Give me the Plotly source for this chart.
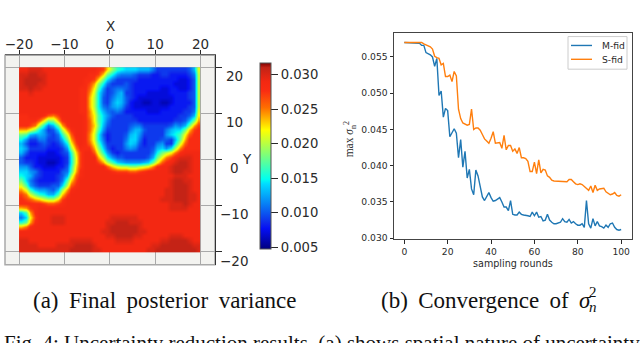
"""Uncertainty reduction figure: posterior variance map and convergence curves."""

import plotly.graph_objects as go

W, H = 640, 343
SANS = "DejaVu Sans"
SERIF = "Liberation Serif"
INK = "#2a2a2a"
BLUE = "#1f77b4"
ORANGE = "#ff7f0e"
THIN = "\u2009"

# ---------------------------------------------------------------------------
# Data
# ---------------------------------------------------------------------------

MAP_X = [c - 19.5 for c in range(40)]
MAP_Y = [19.5 - r for r in range(40)]
MAP_TICKS = [-20, -10, 0, 10, 20]
CBAR_TICKS = [0.005, 0.010, 0.015, 0.020, 0.025, 0.030]

# posterior variance x 1000, top row first
VARIANCE = [
    [29,29,30,30,30,29,29,29,29,29,29,29,29,29,29,29,29,28,27,23,19,16,15,14,14,14,13,13,13,11,9,9,9,9,9,9,9,10,13,21],
    [30,30,31,31,30,30,29,29,29,29,29,29,29,29,29,28,28,27,23,18,15,12,11,11,11,10,9,9,9,8,8,9,9,8,8,8,8,9,11,20],
    [30,31,31,31,31,30,29,29,29,29,29,29,29,29,28,28,27,23,18,14,11,9,9,9,9,9,8,8,8,8,8,8,8,8,8,7,7,8,10,20],
    [30,31,31,31,30,30,29,29,29,29,29,29,29,29,28,27,24,19,15,11,9,9,9,10,9,8,8,8,8,8,8,8,8,8,7,7,7,8,10,20],
    [30,30,31,30,30,29,29,29,29,29,29,29,29,28,28,26,22,17,12,9,10,11,11,10,9,8,8,8,8,8,8,7,7,8,8,7,7,8,10,20],
    [29,29,30,29,29,29,29,29,29,29,29,29,29,28,28,25,21,15,11,9,10,12,13,9,9,8,8,8,7,7,7,7,7,8,8,8,8,9,10,20],
    [29,29,29,29,29,29,29,29,29,29,29,29,29,28,28,24,20,15,10,9,11,13,13,10,9,8,7,7,7,7,7,7,7,7,8,8,8,9,10,20],
    [29,29,29,29,29,29,29,29,29,29,29,29,29,28,28,24,20,15,10,9,12,14,13,10,8,7,7,6,6,7,7,6,6,7,8,8,8,8,10,20],
    [29,29,29,29,29,29,29,29,29,29,29,29,29,28,28,24,20,15,11,10,12,13,12,9,8,7,7,7,7,7,7,7,7,8,8,8,8,9,10,20],
    [29,29,29,29,29,29,29,29,29,29,29,29,29,28,28,25,21,16,13,11,10,11,10,8,8,8,8,8,7,7,7,8,8,8,8,8,9,9,11,21],
    [28,28,29,29,29,28,26,25,27,29,29,29,29,29,28,25,22,17,14,12,10,9,9,9,9,8,8,8,8,8,8,8,8,8,8,9,9,10,13,22],
    [28,28,28,28,26,22,18,19,24,28,29,29,29,29,28,26,22,17,14,11,9,9,9,9,9,9,8,8,8,8,8,8,8,8,9,9,10,13,18,24],
    [28,28,27,25,20,15,11,13,18,24,28,29,29,29,28,26,23,18,13,10,9,9,9,9,10,11,11,9,9,9,9,9,9,10,12,11,13,18,24,27],
    [24,24,22,19,15,12,9,10,14,20,25,28,29,29,28,26,22,17,12,9,9,9,9,9,11,13,13,10,9,9,9,9,11,13,14,14,18,23,27,28],
    [18,17,13,12,13,12,10,9,11,16,21,26,29,29,28,25,21,15,10,8,9,9,9,10,13,14,12,9,9,9,9,9,12,14,15,17,22,26,28,28],
    [15,12,9,9,11,11,9,9,10,13,18,24,28,29,28,25,21,15,11,8,9,9,9,11,14,14,11,8,9,9,9,10,10,9,13,18,24,28,28,28],
    [13,10,8,8,9,10,9,8,9,11,15,22,27,29,28,26,22,17,12,9,9,9,9,12,14,13,10,8,9,9,11,12,9,9,15,21,26,28,28,28],
    [14,12,9,9,9,9,8,8,8,9,12,19,25,28,28,28,24,19,14,10,8,9,9,11,12,11,9,9,9,10,13,14,12,15,20,25,28,28,28,28],
    [13,10,8,8,8,8,7,7,8,9,10,16,23,27,29,29,26,21,16,12,9,8,9,9,9,9,9,9,9,11,15,18,20,22,25,28,29,29,29,29],
    [10,8,8,8,7,7,7,7,7,8,9,15,22,27,29,29,29,24,20,15,12,10,10,9,9,9,9,9,10,13,18,22,25,27,29,30,30,30,29,29],
    [10,9,9,8,7,7,6,6,7,8,9,15,22,27,29,29,29,27,24,20,17,14,13,12,12,12,12,13,14,18,22,26,28,29,30,31,31,30,29,29],
    [12,12,10,8,8,7,7,7,8,8,10,16,23,27,29,29,29,29,29,26,23,21,20,20,19,19,20,21,22,25,28,29,29,30,31,31,31,30,29,29],
    [14,14,12,11,9,8,8,8,8,10,11,17,24,28,29,29,29,29,29,29,28,27,27,27,26,26,27,28,29,29,29,29,29,30,31,31,30,30,29,29],
    [15,14,13,10,9,8,8,8,9,10,13,20,26,28,29,29,29,29,29,29,29,29,29,29,29,29,29,29,29,29,29,29,29,29,30,30,30,29,29,29],
    [18,14,11,9,8,8,8,8,9,11,17,23,27,29,29,29,29,29,29,29,29,29,29,29,29,29,29,29,29,29,29,29,29,30,31,31,30,30,29,29],
    [21,17,12,10,9,9,9,10,10,14,20,26,28,29,29,29,29,29,29,29,29,29,29,29,29,29,29,29,29,29,29,29,29,30,31,31,31,30,29,29],
    [24,21,16,13,12,12,11,10,13,19,24,28,29,29,29,29,29,29,29,29,29,29,29,29,29,29,29,29,29,29,29,29,30,30,31,31,31,30,29,29],
    [27,25,21,18,16,15,13,13,17,23,27,29,29,29,29,29,29,29,29,29,29,29,29,29,29,29,29,29,29,29,29,29,30,30,31,31,31,30,30,29],
    [28,27,26,24,23,21,20,20,23,27,29,29,29,29,29,29,29,29,29,29,29,29,29,29,29,29,29,29,29,29,29,30,30,30,31,31,31,30,30,29],
    [28,28,28,28,28,27,26,26,27,28,29,29,29,29,29,29,29,29,29,29,29,29,29,29,29,29,29,29,29,29,29,29,29,30,30,30,31,30,29,29],
    [23,24,27,28,29,29,29,29,29,29,29,29,29,29,29,29,29,29,29,29,29,29,29,29,29,29,29,29,29,29,29,29,29,30,30,30,30,29,29,29],
    [14,17,24,28,29,29,29,29,29,29,29,29,29,29,29,29,29,29,29,29,29,29,29,29,29,29,29,29,29,29,29,29,29,29,29,29,29,29,29,29],
    [11,14,22,27,29,29,29,30,30,30,29,29,29,29,29,29,29,29,29,29,30,30,30,30,30,30,29,29,29,29,29,29,29,29,29,29,29,29,29,29],
    [16,18,24,28,29,29,29,30,30,30,29,29,29,29,29,29,29,29,29,30,30,31,31,31,30,30,30,29,29,29,29,29,29,29,29,29,29,29,29,29],
    [23,25,28,29,29,29,29,29,29,29,29,29,29,29,29,29,29,29,29,30,31,31,31,31,31,31,30,29,29,29,29,29,29,29,29,29,29,29,29,29],
    [29,29,29,29,29,29,29,29,29,29,29,29,29,29,29,29,29,29,30,30,31,31,31,31,31,31,30,30,29,29,29,29,29,29,29,29,29,29,29,29],
    [29,29,29,29,29,29,29,29,29,29,29,29,29,29,29,29,29,29,29,30,30,31,31,31,31,30,30,29,29,29,29,29,29,30,30,30,29,29,29,29],
    [30,30,29,29,29,29,29,29,29,29,29,30,30,30,30,30,29,29,29,29,29,30,30,30,30,29,29,29,29,29,29,30,30,31,31,31,31,30,29,29],
    [30,30,30,30,29,29,29,29,30,30,30,30,31,31,31,31,30,29,29,29,29,29,29,29,29,29,29,29,29,30,30,31,31,31,31,31,31,31,30,30],
    [30,30,30,30,30,30,30,30,30,30,30,31,31,31,31,31,30,30,29,29,29,29,29,29,29,29,29,29,30,30,31,31,31,31,31,31,31,31,31,30],
]

ROUNDS = list(range(101))

M_FID = [
    0.0570, 0.0570, 0.0570, 0.0570, 0.0570, 0.0570, 0.0570, 0.0569, 0.0566, 0.0566,
    0.0556, 0.0555, 0.0553, 0.0550, 0.0537, 0.0548, 0.0497, 0.0503, 0.0467, 0.0479,
    0.0476, 0.0440, 0.0445, 0.0451, 0.0445, 0.0411, 0.0436, 0.0398, 0.0420, 0.0383,
    0.0395, 0.0368, 0.0360, 0.0394, 0.0386, 0.0373, 0.0357, 0.0352, 0.0357, 0.0363,
    0.0356, 0.0351, 0.0352, 0.0354, 0.0356, 0.0350, 0.0343, 0.0343, 0.0338, 0.0352,
    0.0333, 0.0332, 0.0332, 0.0336, 0.0333, 0.0332, 0.0332, 0.0331, 0.0330, 0.0336,
    0.0331, 0.0336, 0.0329, 0.0330, 0.0324, 0.0325, 0.0333, 0.0325, 0.0322, 0.0320,
    0.0320, 0.0321, 0.0322, 0.0327, 0.0323, 0.0322, 0.0326, 0.0321, 0.0323, 0.0320,
    0.0318, 0.0318, 0.0320, 0.0315, 0.0352, 0.0320, 0.0314, 0.0327, 0.0317, 0.0323,
    0.0317, 0.0316, 0.0314, 0.0318, 0.0315, 0.0320, 0.0321, 0.0315, 0.0312, 0.0311,
    0.0312,
]

S_FID = [
    0.0570, 0.0570, 0.0570, 0.0570, 0.0570, 0.0570, 0.0570, 0.0570, 0.0570, 0.0568,
    0.0567, 0.0565, 0.0564, 0.0561, 0.0551, 0.0549, 0.0548, 0.0539, 0.0541, 0.0523,
    0.0523, 0.0525, 0.0516, 0.0530, 0.0524, 0.0478, 0.0465, 0.0459, 0.0457, 0.0456,
    0.0457, 0.0478, 0.0450, 0.0452, 0.0452, 0.0449, 0.0443, 0.0437, 0.0434, 0.0431,
    0.0438, 0.0447, 0.0431, 0.0431, 0.0432, 0.0424, 0.0442, 0.0422, 0.0428, 0.0428,
    0.0420, 0.0423, 0.0417, 0.0425, 0.0411, 0.0411, 0.0410, 0.0406, 0.0392, 0.0392,
    0.0405, 0.0389, 0.0408, 0.0390, 0.0395, 0.0394, 0.0386, 0.0384, 0.0380, 0.0379,
    0.0379, 0.0379, 0.0378, 0.0378, 0.0379, 0.0378, 0.0381, 0.0381, 0.0378, 0.0375,
    0.0374, 0.0375, 0.0374, 0.0371, 0.0368, 0.0366, 0.0372, 0.0363, 0.0373, 0.0366,
    0.0368, 0.0369, 0.0369, 0.0364, 0.0362, 0.0360, 0.0361, 0.0363, 0.0359, 0.0358,
    0.0360,
]

ROUND_TICKS = [0, 20, 40, 60, 80, 100]
SIGMA_TICKS = [0.030, 0.035, 0.040, 0.045, 0.050, 0.055]

# jet, with the reds pulled towards the washed-out tone of the original screenshot
JET = [
    [0.0, "rgb(0,0,127)"],
    [0.11, "rgb(5,15,245)"],
    [0.14, "rgb(15,40,235)"],
    [0.35, "rgb(0,220,255)"],
    [0.375, "rgb(0,255,240)"],
    [0.64, "rgb(255,255,0)"],
    [0.76, "rgb(255,110,0)"],
    [0.85, "rgb(250,45,18)"],
    [0.90, "rgb(243,40,18)"],
    [0.975, "rgb(195,35,22)"],
    [1.0, "rgb(127,0,0)"],
]


def px_x(x):
    return x / W


def px_y(y):
    return 1 - y / H


def label(x, y, text, size, family=SANS, color=INK, xanchor="center", **kw):
    fig.add_annotation(
        x=px_x(x), y=px_y(y), xref="paper", yref="paper", text=text, showarrow=False,
        xanchor=xanchor, yanchor="middle",
        font={"family": family, "size": size, "color": color}, **kw,
    )


fig = go.Figure()

# ---------------------------------------------------------------------------
# (a) Posterior variance map
# ---------------------------------------------------------------------------

fig.add_trace(
    go.Heatmap(
        x=MAP_X,
        y=MAP_Y,
        z=[[v / 1000 for v in row] for row in VARIANCE],
        zmin=0.0047,
        zmax=0.0317,
        zsmooth="best",
        colorscale=JET,
        xaxis="x",
        yaxis="y",
        colorbar={
            "x": px_x(260), "xanchor": "left", "y": px_y(158), "yanchor": "middle",
            "len": 188 / H, "lenmode": "fraction", "thickness": 11, "xpad": 0, "ypad": 0,
            "outlinecolor": "#555", "outlinewidth": 1,
            "tickvals": CBAR_TICKS, "tickformat": ".3f", "ticks": "outside", "ticklen": 7,
            "tickcolor": INK, "tickfont": {"family": SANS, "size": 13.2, "color": INK},
        },
    )
)

# light frame on the two sides the axes do not draw
fig.add_shape(
    type="rect", xref="paper", yref="paper", layer="below",
    x0=px_x(5), x1=px_x(215), y0=px_y(268), y1=px_y(56),
    line={"color": "#a9a9a9", "width": 1.5}, fillcolor="#f3f3f0",
)

for tick in MAP_TICKS:
    label(234, 162.7 - tick * 4.68 + 7.5, f"{tick}".replace("-", "\u2212"), 13.5)

label(110, 26, "X", 13.5)
label(247, 161, "Y", 13.5)

# ---------------------------------------------------------------------------
# (b) Convergence curves
# ---------------------------------------------------------------------------

fig.add_trace(
    go.Scatter(x=ROUNDS, y=M_FID, name="M-fid", mode="lines",
               line={"color": BLUE, "width": 1.4}, xaxis="x2", yaxis="y2")
)
fig.add_trace(
    go.Scatter(x=ROUNDS, y=S_FID, name="S-fid", mode="lines",
               line={"color": ORANGE, "width": 1.4}, xaxis="x2", yaxis="y2")
)

label(350, 141, "max <i>\u03c3</i><sub>n</sub><sup>2</sup>", 11.5, family=SERIF, textangle=-90)
label(513, 267, "sampling rounds", 9.6)

# plotly's own legend rows are too tall for this box, so it is drawn by hand
fig.add_shape(
    type="rect", xref="paper", yref="paper",
    x0=px_x(568), x1=px_x(627), y0=px_y(70), y1=px_y(37),
    line={"color": "#cccccc", "width": 1}, fillcolor="white",
)
for row_y, color, name in [(46, BLUE, "M-fid"), (60, ORANGE, "S-fid")]:
    fig.add_shape(
        type="line", xref="paper", yref="paper",
        x0=px_x(571), x1=px_x(592), y0=px_y(row_y), y1=px_y(row_y),
        line={"color": color, "width": 1.4},
    )
    label(600, row_y, name, 9.2, xanchor="left")

# ---------------------------------------------------------------------------
# Captions
# ---------------------------------------------------------------------------

label(165, 304, f"(a) {THIN}Final {THIN}posterior {THIN}variance", 23, family=SERIF, color="#111")
label(379, 304, f"(b) {THIN}Convergence {THIN}of {THIN}<i>\u03c3</i>", 23, family=SERIF, color="#111", xanchor="left")
label(587, 295, "2", 15, family=SERIF, color="#111", xanchor="left")
label(587, 311, "<i>n</i>", 15, family=SERIF, color="#111", xanchor="left")
label(2, 347, "Fig. 4: Uncertainty reduction results. (a) shows spatial nature of uncertainty",
      21, family=SERIF, color="#111", xanchor="left")

fig.update_layout(
    width=W,
    height=H,
    margin={"l": 0, "r": 0, "t": 0, "b": 0},
    paper_bgcolor="white",
    plot_bgcolor="rgba(0,0,0,0)",
    showlegend=False,
    xaxis={
        "domain": [px_x(5), px_x(215)], "range": [-23.1, 23.2], "side": "top",
        "tickvals": MAP_TICKS, "ticks": "outside", "ticklen": 4, "tickcolor": INK,
        "ticklabelstandoff": -4,
        "showline": True, "linecolor": "#666", "gridcolor": "#a9a9a9", "zeroline": False,
        "tickfont": {"family": SANS, "size": 13.5, "color": INK},
        "anchor": "y",
    },
    yaxis={
        "domain": [px_y(268), px_y(56)], "range": [-22.8, 22.6], "side": "right",
        "tickvals": MAP_TICKS, "showticklabels": False, "ticks": "outside", "ticklen": 6,
        "tickcolor": INK, "showline": True, "linecolor": "#333", "gridcolor": "#a9a9a9",
        "zeroline": False, "anchor": "x",
    },
    xaxis2={
        "domain": [px_x(394), px_x(632)], "range": [-4.75, 105], "anchor": "y2",
        "tickvals": ROUND_TICKS, "ticks": "outside", "ticklen": 3.5, "tickcolor": INK,
        "showline": True, "mirror": True, "linecolor": "#444", "showgrid": False,
        "zeroline": False, "tickfont": {"family": SANS, "size": 9.2, "color": INK},
    },
    yaxis2={
        "domain": [px_y(242), px_y(33)], "range": [0.02987, 0.05836], "anchor": "x2",
        "tickvals": SIGMA_TICKS, "tickformat": ".3f", "ticks": "outside", "ticklen": 3.5,
        "tickcolor": INK, "showline": True, "mirror": True, "linecolor": "#444",
        "showgrid": False, "zeroline": False,
        "tickfont": {"family": SANS, "size": 9.2, "color": INK},
    },
)

# the default page margin would push the figure 8px down and right
fig.write_html(
    "out.html",
    config={"displayModeBar": False},
    post_script="document.body.style.margin = '0';",
)
